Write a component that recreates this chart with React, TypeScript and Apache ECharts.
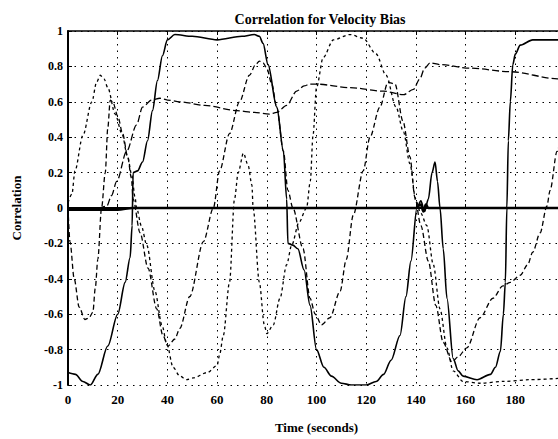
import React, { useEffect, useRef } from "react";
import * as echarts from "echarts";

const chartTitle = "Correlation for Velocity Bias";
const xName = "Time (seconds)";
const yName = "Correlation";

const solidMain = [
  [0, -0.93], [3, -0.94], [6, -0.98], [9, -1.0], [12, -0.94], [16, -0.78], [20, -0.6], [23, -0.42],
  [25, -0.28], [25.8, -0.1], [26.2, 0.2], [28, 0.21], [30, 0.26], [32, 0.38], [34, 0.55], [36, 0.72],
  [38, 0.86], [40, 0.95], [43, 0.98], [50, 0.97], [60, 0.95], [70, 0.97], [75, 0.98], [77, 0.97],
  [78.5, 0.93], [80.5, 0.81], [84, 0.57], [86.7, 0.32], [88, 0.05], [88.5, -0.2], [90.5, -0.21],
  [92.5, -0.23], [95, -0.35], [97.4, -0.55], [100, -0.8], [103, -0.9], [106, -0.95], [110, -0.99],
  [114, -1.0], [120, -1.0], [124, -0.98], [127, -0.94], [130, -0.86], [133.6, -0.72], [136, -0.5],
  [138, -0.3], [140.4, 0], [142, 0.04], [143.5, -0.02], [145, 0.05], [146.5, 0.2], [147.7, 0.26],
  [148.7, 0.15], [149.7, 0], [151, -0.23], [152.5, -0.51], [155, -0.85], [157, -0.92], [159, -0.95],
  [164.6, -0.97], [170, -0.94], [172, -0.9], [174, -0.81], [175.2, -0.6], [176, -0.42], [176.6, 0],
  [177.2, 0.38], [178, 0.6], [179, 0.81], [180, 0.87], [182, 0.92], [187, 0.95], [200, 0.95],
];

const zeroLine = [
  [0, -0.01], [20, -0.01], [26, 0.0], [40, 0.0], [80, 0.0], [140, 0.0], [142, 0.02], [143, -0.02],
  [144, 0.02], [145, 0.0], [200, 0.0],
];

const dashedA = [
  [0, 0.03], [1.6, 0.08], [2.8, 0.21], [6, 0.41], [9.6, 0.6], [11.5, 0.71], [13, 0.75], [14.5, 0.73],
  [16, 0.68], [19, 0.53], [21.7, 0.42], [24, 0.29], [25.6, 0.19], [27, 0.06], [27.6, 0], [29.5, -0.1],
  [31.7, -0.21], [35, -0.47], [37.8, -0.66], [39.8, -0.77], [42.3, -0.9], [45, -0.95], [47.8, -0.97],
  [50.4, -0.96], [56, -0.93], [60, -0.89], [61, -0.83], [62.5, -0.72], [65, -0.42], [67, 0.05],
  [68.5, 0.2], [70.6, 0.31], [72.5, 0.24], [74, 0.13], [74.5, 0], [77, -0.42], [79, -0.66], [80, -0.71],
  [82.6, -0.66], [85.3, -0.51], [88, -0.32], [90, -0.21], [93, -0.08], [96, 0.0], [97.5, 0.15],
  [98.6, 0.41], [100, 0.68], [102.7, 0.85], [106.8, 0.95], [113.5, 0.98], [118.7, 0.96], [124, 0.87],
  [128, 0.75], [132, 0.57], [135, 0.43], [137.6, 0.25], [140, 0.04], [142, -0.03], [144.4, -0.1],
  [147, -0.32], [149.7, -0.57], [152.5, -0.79], [155, -0.92], [159, -0.98], [165.8, -0.99],
  [175, -0.98], [186, -0.97], [200, -0.96],
];

const dashedB = [
  [0, 0.0], [0.8, -0.19], [2.5, -0.4], [4.5, -0.56], [6.8, -0.63], [8.5, -0.62], [10, -0.59],
  [11, -0.45], [12, -0.29], [13.5, 0], [15, 0.2], [16, 0.45], [17, 0.61], [18, 0.6], [20, 0.52],
  [22, 0.42], [24, 0.29], [25.5, 0.17], [26.2, 0.05], [29, -0.14], [32.2, -0.34], [35.7, -0.57],
  [38.2, -0.72], [40.2, -0.78], [43, -0.74], [45, -0.68], [49, -0.5], [54.5, -0.19], [58.5, 0],
  [61, 0.21], [65, 0.42], [69, 0.6], [73, 0.75], [75.5, 0.81], [77, 0.83], [78.5, 0.82], [80, 0.79],
  [82, 0.7], [84, 0.57], [86.7, 0.32], [88.5, 0.1], [90.5, 0], [94.6, -0.23], [97.4, -0.51],
  [99.5, -0.6], [102, -0.66], [105.4, -0.62], [109.5, -0.47], [112, -0.29], [114.8, -0.04],
  [118.8, 0.21], [121.5, 0.4], [125.5, 0.57], [128.8, 0.71], [131.6, 0.7], [134.8, 0.49],
  [137.6, 0.29], [139.6, 0.06], [142, -0.1], [145, -0.3], [148, -0.55], [151, -0.76], [154.5, -0.87],
  [157, -0.84], [160.5, -0.79], [165.8, -0.62], [171, -0.51], [175, -0.44], [178, -0.42],
  [182, -0.38], [185, -0.32], [187, -0.25], [190, -0.14], [192.7, 0.01], [194, 0.1], [196.8, 0.32],
  [200, 0.55],
];

const dashedC = [
  [0, 0], [12, 0], [15.6, 0.01], [17.5, 0.07], [19.6, 0.15], [23.6, 0.32], [27.6, 0.47], [30, 0.57],
  [33.6, 0.61], [37, 0.62], [40, 0.61], [45, 0.6], [55, 0.58], [68, 0.55], [75, 0.54], [81, 0.53],
  [84, 0.54], [88, 0.58], [92, 0.66], [95, 0.69], [97.4, 0.7], [100, 0.7], [113.5, 0.68], [127, 0.66],
  [135, 0.64], [139, 0.67], [141.6, 0.73], [143.5, 0.79], [145.7, 0.82], [149.7, 0.81], [161.8, 0.79],
  [178, 0.77], [197, 0.73], [200, 0.72],
];

const SERIF = "'Liberation Serif', 'DejaVu Serif', serif";

export default function App() {
  const ref = useRef<HTMLDivElement>(null);
  useEffect(() => {
    if (!ref.current) return;
    const chart = echarts.init(ref.current, null, { renderer: "svg" });
    const grid = { color: "#000", width: 1, type: [1.5, 5] as any };
    const line = (name: string, data: number[][], width: number, type: any) => ({
      name,
      type: "line",
      data,
      showSymbol: false,
      smooth: 0.3,
      smoothMonotone: "x",
      clip: true,
      lineStyle: { color: "#000", width, type },
      z: 3,
    });
    chart.setOption({
      animation: false,
      backgroundColor: "#fff",
      title: {
        text: chartTitle,
        left: 315,
        top: 7,
        textAlign: "center",
        textStyle: { fontFamily: SERIF, fontSize: 14, fontWeight: "bold", color: "#000" },
      },
      grid: { left: 68, top: 31, right: 15, bottom: 51 },
      xAxis: [
        {
          type: "value",
          min: 0,
          max: 200,
          interval: 20,
          name: xName,
          nameLocation: "middle",
          nameGap: 36,
          nameTextStyle: { fontFamily: SERIF, fontSize: 13, fontWeight: "bold", color: "#000" },
          axisLine: { lineStyle: { color: "#000", width: 2 } },
          axisTick: { inside: true, length: 4, lineStyle: { color: "#000" } },
          axisLabel: {
            fontFamily: SERIF,
            fontSize: 13,
            fontWeight: "bold",
            color: "#000",
            margin: 8,
            showMaxLabel: false,
          },
          splitLine: { show: true, lineStyle: grid },
        },
        {
          type: "value",
          position: "top",
          min: 0,
          max: 200,
          interval: 20,
          axisLine: { lineStyle: { color: "#000", width: 1.5 } },
          axisTick: { inside: true, length: 4, lineStyle: { color: "#000" } },
          axisLabel: { show: false },
          splitLine: { show: false },
        },
      ],
      yAxis: {
        type: "value",
        min: -1,
        max: 1,
        interval: 0.2,
        name: yName,
        nameLocation: "middle",
        nameGap: 45,
        nameTextStyle: { fontFamily: SERIF, fontSize: 13, fontWeight: "bold", color: "#000" },
        axisLine: { show: true, lineStyle: { color: "#000", width: 2 } },
        axisTick: { show: true, inside: true, length: 4, lineStyle: { color: "#000" } },
        axisLabel: { fontFamily: SERIF, fontSize: 12, fontWeight: "bold", color: "#000", margin: 5 },
        splitLine: { show: true, lineStyle: grid },
      },
      series: [
        line("zero", zeroLine, 2.5, "solid"),
        line("main", solidMain, 1.6, "solid"),
        line("a", dashedA, 1.3, [3, 3]),
        line("b", dashedB, 1.3, [5, 3]),
        line("c", dashedC, 1.3, [7, 3]),
      ],
    });
    return () => chart.dispose();
  }, []);
  return (
    <div
      style={{
        position: "absolute",
        left: 0,
        top: 0,
        width: 558,
        height: 439,
        overflow: "hidden",
        background: "#fff",
      }}
    >
      <div ref={ref} style={{ width: 580, height: 439 }} />
    </div>
  );
}
